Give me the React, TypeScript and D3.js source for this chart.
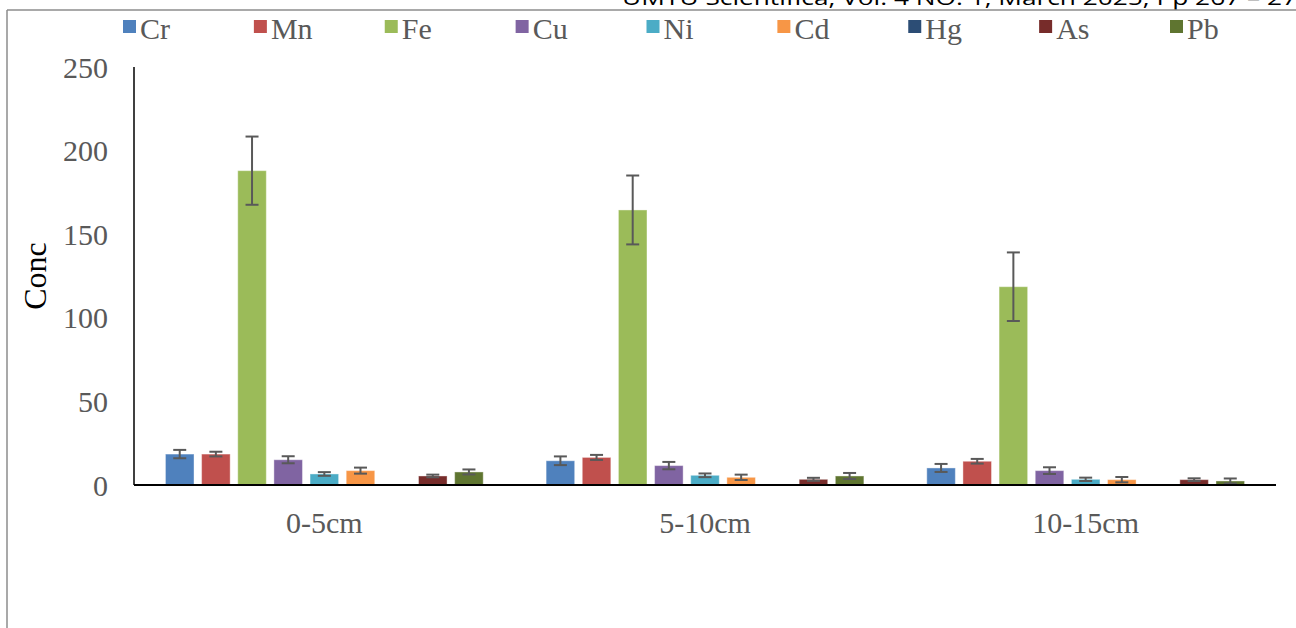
import React from "react";
import * as d3 from "d3";

const categories = ["0-5cm", "5-10cm", "10-15cm"];
const metals = ["Cr", "Mn", "Fe", "Cu", "Ni", "Cd", "Hg", "As", "Pb"];
const colors = ["#4F81BD", "#C0504D", "#9BBB59", "#8064A2", "#4BACC6", "#F79646", "#2C4D75", "#772C2A", "#5F7530"];
// values per metal, order of categories
const Cr = [18.5, 14.5, 10.2];
const Mn = [18.5, 16.5, 14.2];
const Fe = [188.0, 164.5, 118.6];
const Cu = [15.1, 11.6, 8.6];
const Ni = [6.6, 5.8, 3.4];
const Cd = [8.6, 4.6, 3.2];
const Hg = [0.6, 0.6, 0.6];
const As = [5.4, 3.4, 3.2];
const Pb = [7.8, 5.4, 2.4];
const CrErr = [2.5, 2.6, 2.4];
const MnErr = [1.4, 1.5, 1.4];
const FeErr = [20.4, 20.6, 20.5];
const CuErr = [2.1, 2.2, 2.0];
const NiErr = [1.1, 1.1, 1.0];
const CdErr = [1.8, 1.6, 1.6];
const HgErr = [0, 0, 0];
const AsErr = [0.8, 0.9, 0.8];
const PbErr = [1.5, 1.8, 1.5];
const yTicks = [0, 50, 100, 150, 200, 250];
const header = "UMYU Scientifica, Vol. 4 NO. 1, March 2025, Pp 267 – 275";

const values = [Cr, Mn, Fe, Cu, Ni, Cd, Hg, As, Pb];
const errors = [CrErr, MnErr, FeErr, CuErr, NiErr, CdErr, HgErr, AsErr, PbErr];

export default function App() {
  const W = 1296, H = 628;
  const left = 134, right = 1276, top = 67, bottom = 485;
  const x0 = d3.scaleBand().domain(categories).range([left, right]).padding(0);
  const x1 = d3.scaleBand().domain(metals).range([0, x0.bandwidth()]).paddingInner(0.21).paddingOuter(0.87);
  const y = d3.scaleLinear().domain([0, 250]).range([bottom, top]);
  const legendX = d3.scalePoint().domain(metals).range([123, 1170]);
  const serif = "'Liberation Serif', 'Times New Roman', serif";
  const cap = 6.5;

  return (
    <svg width={W} height={H} style={{ position: "absolute", left: 0, top: 0, background: "#fff" }}>
      <rect x={0} y={0} width={W} height={H} fill="#fff" />
      <text x={622} y={5} fontFamily="'Open Sans', sans-serif" fontSize={20} textLength={690} lengthAdjust="spacingAndGlyphs" fill="#000">{header}</text>
      <line x1={7} y1={10} x2={W} y2={10} stroke="#8c8c8c" strokeWidth={1.5} />
      <line x1={7} y1={10} x2={7} y2={H} stroke="#8c8c8c" strokeWidth={1.5} />

      {/* legend */}
      {metals.map((m, i) => (
        <g key={m} transform={`translate(${legendX(m)},0)`}>
          <rect x={0} y={20} width={13} height={13} fill={colors[i]} />
          <text x={17} y={39} fontFamily={serif} fontSize={30} fill="#595959">{m}</text>
        </g>
      ))}

      {/* y tick labels */}
      {yTicks.map((t) => (
        <text key={t} x={108} y={y(t)} dy="0.35em" textAnchor="end" fontFamily={serif} fontSize={30} fill="#595959">{t}</text>
      ))}
      <text transform={`translate(46,${(top + bottom) / 2}) rotate(-90)`} textAnchor="middle" fontFamily={serif} fontSize={32} fill="#000">Conc</text>

      {/* bars */}
      {categories.map((c, ci) => (
        <g key={c} transform={`translate(${x0(c)},0)`}>
          {metals.map((m, mi) => {
            const v = values[mi][ci];
            const bx = x1(m)!;
            const bw = x1.bandwidth();
            return (
              <rect key={m} x={bx} y={y(v)} width={bw} height={Math.max(1, bottom - y(v))} fill={colors[mi]} stroke="#ffffff" strokeOpacity={0.4} strokeWidth={1} />
            );
          })}
          {metals.map((m, mi) => {
            const v = values[mi][ci];
            const e = errors[mi][ci];
            if (!e) return null;
            const cx = x1(m)! + x1.bandwidth() / 2;
            return (
              <g key={m} stroke="#595959" strokeWidth={2}>
                <line x1={cx} x2={cx} y1={y(v + e)} y2={y(v - e)} />
                <line x1={cx - cap} x2={cx + cap} y1={y(v + e)} y2={y(v + e)} />
                <line x1={cx - cap} x2={cx + cap} y1={y(v - e)} y2={y(v - e)} />
              </g>
            );
          })}
          <text x={x0.bandwidth() / 2} y={533} textAnchor="middle" fontFamily={serif} fontSize={30} fill="#595959">{c}</text>
        </g>
      ))}

      {/* axes */}
      <line x1={left} y1={top} x2={left} y2={bottom} stroke="#000" strokeWidth={1.5} />
      <line x1={left} y1={bottom} x2={right} y2={bottom} stroke="#000" strokeWidth={2} />
    </svg>
  );
}
